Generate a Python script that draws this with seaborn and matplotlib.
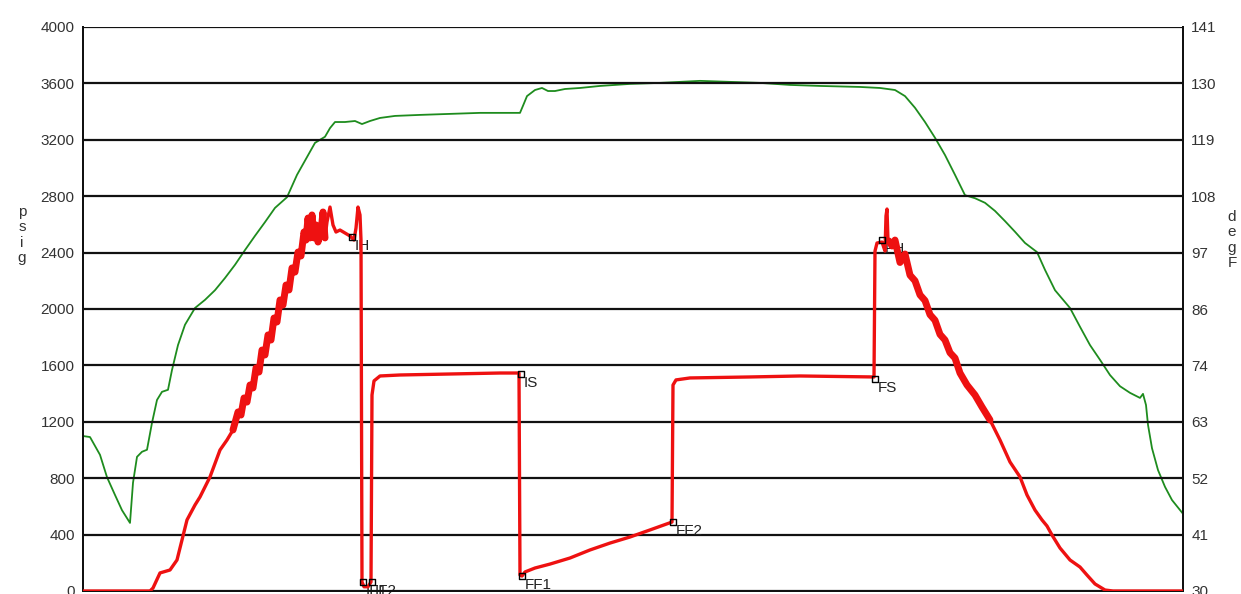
import matplotlib
matplotlib.use('Agg')
import matplotlib.pyplot as plt
import seaborn as sns
import pandas as pd

# pressure trace (time in minutes, psig)
p_time = [0, 67, 70, 77, 87, 94, 99, 104, 112, 117, 127, 137, 144, 150, 155, 158, 161, 164,
          167, 170, 173, 176, 179, 182, 185, 188, 191, 194, 197, 200, 203, 206, 209, 212, 215,
          218, 221, 223, 225, 227, 229, 231, 233, 235, 238, 240, 242, 244, 247, 250, 253, 257,
          262, 267, 271, 273, 275, 277, 278, 279, 281, 285, 288, 289, 291, 297, 317, 367, 417,
          436, 437, 439, 442, 452, 467, 487, 507, 527, 547, 567, 589, 590, 593, 607, 667, 717,
          791, 792, 794, 799, 802, 803, 804, 805, 806, 809, 812, 817, 822, 827, 832, 837, 842,
          847, 852, 857, 862, 867, 872, 877, 884, 892, 899, 907, 917, 927, 937, 944, 952, 959,
          964, 969, 977, 987, 997, 1004, 1012, 1022, 1030, 1100]
p_psig = [0, 0, 21, 128, 149, 220, 362, 504, 610, 667, 809, 1000, 1071, 1142, 1270, 1248, 1369,
          1340, 1461, 1440, 1582, 1553, 1709, 1674, 1816, 1780, 1936, 1908, 2064, 2028, 2170,
          2135, 2291, 2262, 2404, 2376, 2546, 2489, 2645, 2504, 2667, 2504, 2596, 2475, 2546,
          2688, 2504, 2617, 2723, 2596, 2546, 2560, 2539, 2518, 2489, 2574, 2723, 2667, 2489,
          64, 30, 30, 64, 1390, 1490, 1525, 1532, 1539, 1546, 1546, 113, 106, 135, 163, 191,
          234, 291, 340, 383, 433, 489, 1461, 1497, 1511, 1518, 1525, 1518, 2411, 2468, 2475,
          2411, 2660, 2709, 2482, 2482, 2447, 2489, 2330, 2390, 2240, 2200, 2100, 2060, 1960,
          1920, 1820, 1780, 1690, 1652, 1546, 1461, 1390, 1305, 1213, 1071, 915, 809, 681, 574,
          504, 461, 397, 305, 220, 170, 113, 50, 7, 0, 0]

# temperature trace (time in minutes, degF)
t_time = [0, 7, 17, 24, 32, 39, 47, 50, 54, 59, 64, 69, 74, 79, 85, 89, 95, 102, 112, 122, 132,
          142, 152, 162, 172, 182, 192, 204, 214, 224, 232, 237, 242, 247, 252, 262, 272, 279,
          287, 297, 312, 337, 367, 397, 437, 440, 444, 452, 459, 465, 472, 482, 497, 517, 547,
          577, 617, 647, 677, 707, 737, 777, 797, 812, 822, 832, 842, 852, 862, 872, 882, 892,
          902, 912, 922, 932, 942, 954, 962, 972, 987, 997, 1007, 1017, 1027, 1037, 1047, 1057,
          1060, 1063, 1065, 1069, 1075, 1082, 1089, 1100]
t_degf = [60.5, 60.3, 56.8, 52.4, 48.9, 45.9, 43.4, 51.3, 56.4, 57.4, 57.8, 63.1, 67.6, 69.2,
          69.6, 73.5, 78.4, 82.4, 85.7, 87.3, 89.2, 91.6, 94.2, 97.1, 99.9, 102.6, 105.4, 107.5,
          111.9, 115.4, 118.2, 118.8, 119.4, 121.1, 122.3, 122.3, 122.5, 121.9, 122.5, 123.1,
          123.5, 123.7, 123.9, 124.1, 124.1, 125.5, 127.4, 128.6, 129.0, 128.4, 128.4, 128.8,
          129.0, 129.4, 129.8, 130.0, 130.4, 130.2, 130.0, 129.6, 129.4, 129.2, 129.0, 128.6,
          127.4, 125.1, 122.3, 119.2, 115.8, 111.9, 107.9, 107.3, 106.4, 104.8, 102.8, 100.7,
          98.5, 96.7, 93.2, 89.2, 85.7, 82.0, 78.4, 75.5, 72.5, 70.3, 69.0, 68.0, 68.8, 66.6,
          62.7, 58.1, 53.8, 50.5, 47.9, 45.2]

# test events
ev_name = ['IH', 'IF1', 'IF2', 'IS', 'FF1', 'FF2', 'FS', 'FH']
ev_time = [269, 280, 289, 438, 439, 590, 792, 799]
ev_psig = [2511, 64, 64, 1539, 106, 489, 1504, 2489]

# noisy gauge sections (time ranges) drawn as a thick band
noisy = [(150, 243), (806, 907)]

psi_ticks = list(range(0, 4001, 400))
degf_labels = ['30', '41', '52', '63', '74', '86', '97', '108', '119', '130', '141']

sns.set_style('white')
plt.rcParams['font.family'] = ['Liberation Sans', 'DejaVu Sans']

pres = pd.DataFrame({'time': p_time, 'psig': p_psig})
temp = pd.DataFrame({'time': t_time, 'degF': t_degf})
events = pd.DataFrame({'time': ev_time, 'psig': ev_psig, 'name': ev_name})

fig = plt.figure(figsize=(12.41, 5.94), dpi=100)
ax = fig.add_axes([83 / 1241, 3 / 594, 1100 / 1241, 564 / 594])
ax2 = ax.twinx()

for y in psi_ticks:
    ax.axhline(y, color='#111111', lw=1.6, zorder=1)

sns.lineplot(data=temp, x='time', y='degF', ax=ax2, color='#1e8c1e', lw=1.3,
             sort=False, estimator=None)
sns.lineplot(data=pres, x='time', y='psig', ax=ax, color='#ee1111', lw=2.4,
             sort=False, estimator=None, zorder=3)
for t0, t1 in noisy:
    seg = pres[(pres['time'] >= t0) & (pres['time'] <= t1)]
    sns.lineplot(data=seg, x='time', y='psig', ax=ax, color='#ee1111', lw=5,
                 sort=False, estimator=None, zorder=3)
sns.scatterplot(data=events, x='time', y='psig', ax=ax, marker='s', s=22,
                facecolor='none', edgecolor='black', linewidth=1.0, zorder=4)
for _, r in events.iterrows():
    ax.annotate(r['name'], (r['time'], r['psig']), xytext=(3, -2), textcoords='offset pixels',
                ha='left', va='top', fontsize=11, color='#222222', zorder=2)

# pressure axis above the temperature axis so the red trace sits on top
ax.set_zorder(ax2.get_zorder() + 1)
ax.patch.set_visible(False)

ax.set_xlim(0, 1100)
ax.set_ylim(0, 4000)
ax2.set_ylim(30, 141)
ax.set_yticks(psi_ticks)
ax.set_yticklabels([str(v) for v in psi_ticks])
ax2.set_yticks([30 + i * 11.1 for i in range(11)])
ax2.set_yticklabels(degf_labels)
ax.set_xticks([])
ax.set_xlabel('')
ax.set_ylabel('')
ax2.set_ylabel('')

for a in (ax, ax2):
    a.tick_params(axis='y', length=0, pad=6, labelsize=11, labelcolor='#333333')
    for s in a.spines.values():
        s.set_color('#111111')
        s.set_linewidth(1.4)
    a.spines['top'].set_visible(False)

fig.text(22 / 1241, 1 - 235 / 594, 'p\ns\ni\ng', ha='center', va='center', fontsize=11,
         color='#333333', linespacing=1.15)
fig.text(1232 / 1241, 1 - 240 / 594, 'd\ne\ng\nF', ha='center', va='center', fontsize=11,
         color='#333333', linespacing=1.15)

fig.savefig('out.png', dpi=100)
